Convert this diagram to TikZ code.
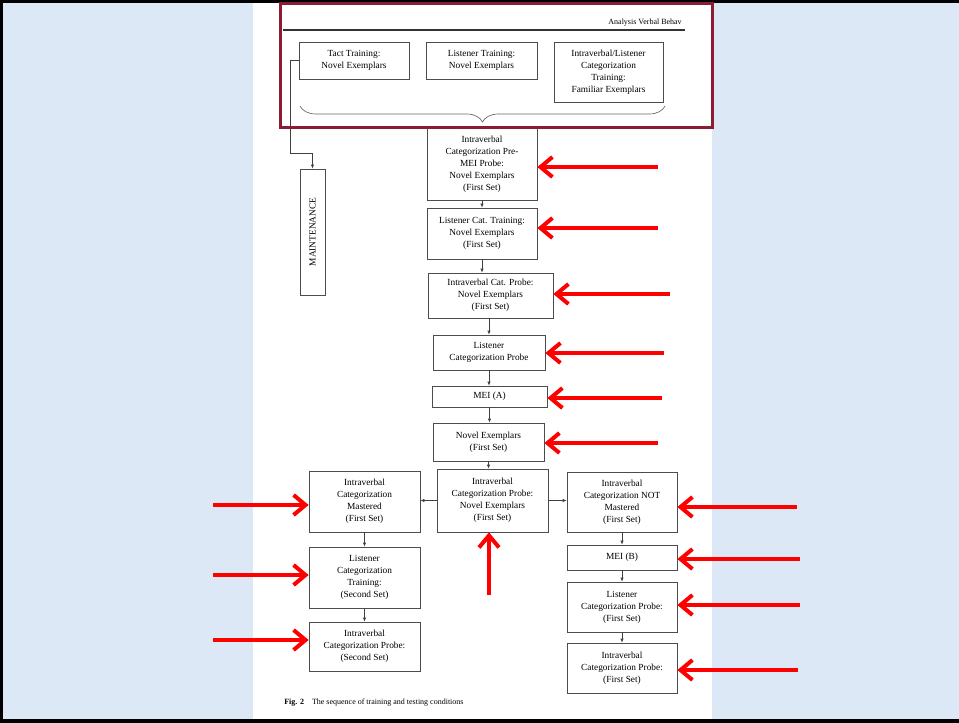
\documentclass[tikz,border=0pt]{standalone}
\usepackage{fontspec}
\setmainfont{Liberation Serif}
\usetikzlibrary{arrows.meta,decorations.pathreplacing}
\definecolor{bgblue}{RGB}{220,232,246}
\definecolor{frameRed}{RGB}{140,28,50}
\tikzset{
  box/.style={draw=black!70, line width=0.5pt, fill=white, align=center, inner sep=1pt, font=\fontsize{7}{9}\selectfont},
  flow/.style={-{Latex[length=3pt,width=2.5pt]}, draw=black!75, line width=0.5pt},
  redarrow/.style={-{Straight Barb[length=9pt,width=15pt]}, draw=red, line width=3pt},
}
\begin{document}
\begin{tikzpicture}[x=0.75pt,y=0.75pt,yscale=-1,xscale=1]
\useasboundingbox (0,0) rectangle (959,722);

% background and page
\fill[bgblue] (0,0) rectangle (959,722);
\fill[white] (253,0) rectangle (712,722);
\draw[line width=4.5pt] (959,0) -- (0,0) -- (0,722) -- (959,722);

% header
\node[anchor=south east, inner sep=0.75pt, font=\fontsize{6}{7}\selectfont] (hdr) at (683,27) {Analysis Verbal Behav};
\draw[black!80, line width=1pt] (283,30) -- (685,30);

% training boxes
\node[box, minimum width=82.5pt, minimum height=27.75pt] (tact) at (354,60.5) {Tact Training:\\Novel Exemplars};
\node[box, minimum width=83.25pt, minimum height=27.75pt] (listtr) at (481.5,60.5) {Listener Training:\\Novel Exemplars};
\node[box, minimum width=81.75pt, minimum height=45pt] (ivlist) at (608.5,72) {Intraverbal/Listener\\Categorization\\Training:\\Familiar Exemplars};

% brace
\draw[black!60, line width=0.5pt, decorate, decoration={brace, amplitude=12pt}] (665,106) -- (300,106);

% maintenance
\node[box, minimum width=18.75pt, minimum height=94.5pt] (maint) at (312.5,232) {};
\node[rotate=90, inner sep=0pt, font=\fontsize{7}{9}\selectfont] (maintlbl) at (maint) {MAINTENANCE};
\coordinate (mbend) at (290,153);
\draw[flow] (tact.west) -| (mbend) -| (maint.north);

% main sequence
\node[box, minimum width=82.5pt, minimum height=54pt] (pre) at (482,164) {Intraverbal\\Categorization Pre-\\MEI Probe:\\Novel Exemplars\\(First Set)};
\node[box, minimum width=82.5pt, minimum height=38.25pt] (lct) at (482,233.5) {Listener Cat. Training:\\Novel Exemplars\\(First Set)};
\node[box, minimum width=93.75pt, minimum height=33.75pt] (icp) at (490.5,295.5) {Intraverbal Cat. Probe:\\Novel Exemplars\\(First Set)};
\node[box, minimum width=84pt, minimum height=26.25pt] (lcp) at (489,352.5) {Listener\\Categorization Probe};
\node[box, minimum width=86.25pt, minimum height=15.75pt] (meia) at (489.5,396.5) {MEI (A)};
\node[box, minimum width=83.25pt, minimum height=28.5pt] (nov) at (488.5,442) {Novel Exemplars\\(First Set)};
\node[box, minimum width=83.25pt, minimum height=47.25pt] (icpn) at (492.5,500.5) {Intraverbal\\Categorization Probe:\\Novel Exemplars\\(First Set)};

\draw[flow] (pre.south) -- (pre.south |- lct.north);
\draw[flow] (lct.south) -- (lct.south |- icp.north);
\draw[flow] (lcp.north |- icp.south) -- (lcp.north);
\draw[flow] (lcp.south) -- (lcp.south |- meia.north);
\draw[flow] (meia.south) -- (meia.south |- nov.north);
\draw[flow] (nov.south) -- (nov.south |- icpn.north);

% mastered branch
\node[box, minimum width=83.25pt, minimum height=45.75pt] (mast) at (364.5,501.5) {Intraverbal\\Categorization\\Mastered\\(First Set)};
\node[box, minimum width=83.25pt, minimum height=45.75pt] (lctr2) at (364.5,577.5) {Listener\\Categorization\\Training:\\(Second Set)};
\node[box, minimum width=83.25pt, minimum height=36.75pt] (icp2) at (364.5,646.5) {Intraverbal\\Categorization Probe:\\(Second Set)};

\draw[flow] (icpn.west) -- (mast.east |- icpn.west);
\draw[flow] (mast.south) -- (lctr2.north);
\draw[flow] (lctr2.south) -- (icp2.north);

% not mastered branch
\node[box, minimum width=82.5pt, minimum height=45pt] (notm) at (622,502) {Intraverbal\\Categorization NOT\\Mastered\\(First Set)};
\node[box, minimum width=82.5pt, minimum height=18.75pt] (meib) at (622,557.5) {MEI (B)};
\node[box, minimum width=82.5pt, minimum height=37.5pt] (lcp1) at (622,607) {Listener\\Categorization Probe:\\(First Set)};
\node[box, minimum width=82.5pt, minimum height=37.5pt] (icp1) at (622,668) {Intraverbal\\Categorization Probe:\\(First Set)};

\draw[flow] (icpn.east) -- (notm.west |- icpn.east);
\draw[flow] (notm.south) -- (meib.north);
\draw[flow] (meib.south) -- (lcp1.north);
\draw[flow] (lcp1.south) -- (icp1.north);

% caption
\node[anchor=west, inner sep=0.75pt, font=\fontsize{6}{7}\selectfont] (cap) at (283,703) {\textbf{Fig. 2}\quad The sequence of training and testing conditions};

% highlight frame
\draw[frameRed, line width=2.25pt] (280,3) rectangle (712,127);

% red pointers
\coordinate (ra1) at (658,167);
\coordinate (ra2) at (658,228);
\coordinate (ra3) at (670,294);
\coordinate (ra4) at (664,353);
\coordinate (ra5) at (662,398);
\coordinate (ra6) at (658,443);
\coordinate (la1) at (213,505);
\coordinate (la2) at (213,575);
\coordinate (la3) at (213,640);
\coordinate (ua) at (489,595);
\coordinate (rb1) at (797,507);
\coordinate (rb2) at (800,559);
\coordinate (rb3) at (800,605);
\coordinate (rb4) at (798,670);

\draw[redarrow] (ra1) -- (ra1 -| pre.east);
\draw[redarrow] (ra2) -- (ra2 -| lct.east);
\draw[redarrow] (ra3) -- (ra3 -| icp.east);
\draw[redarrow] (ra4) -- (ra4 -| lcp.east);
\draw[redarrow] (ra5) -- (ra5 -| meia.east);
\draw[redarrow] (ra6) -- (ra6 -| nov.east);
\draw[redarrow] (la1) -- (la1 -| mast.west);
\draw[redarrow] (la2) -- (la2 -| lctr2.west);
\draw[redarrow] (la3) -- (la3 -| icp2.west);
\draw[redarrow] (ua) -- (ua |- icpn.south);
\draw[redarrow] (rb1) -- (rb1 -| notm.east);
\draw[redarrow] (rb2) -- (rb2 -| meib.east);
\draw[redarrow] (rb3) -- (rb3 -| lcp1.east);
\draw[redarrow] (rb4) -- (rb4 -| icp1.east);

\end{tikzpicture}
\end{document}
